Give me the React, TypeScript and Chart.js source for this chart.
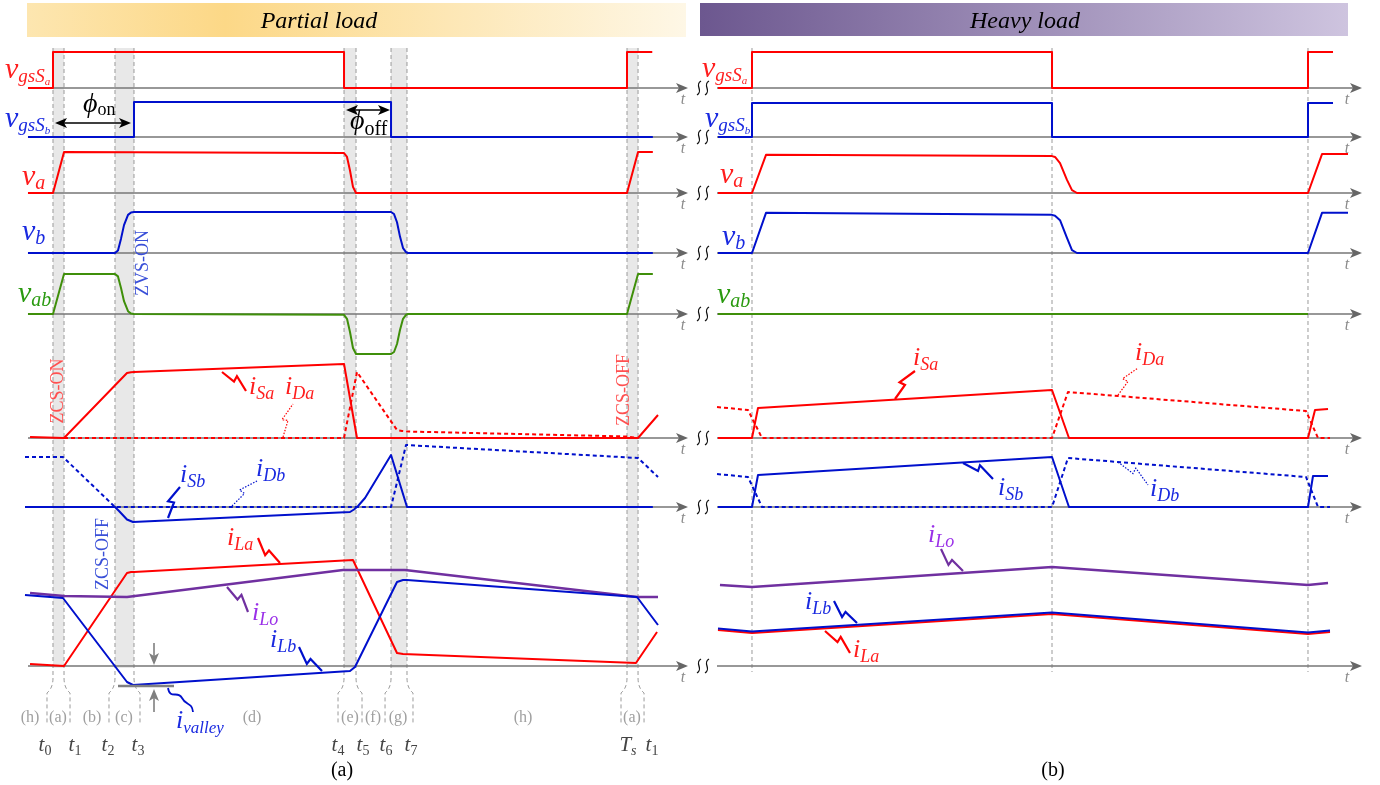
import React, { useEffect, useRef } from "react";
import { Chart, registerables } from "chart.js";
Chart.register(...registerables);

const W = 1380;
const H = 785;
const FONT = '"Liberation Serif", "DejaVu Serif", serif';

const RED = "#ff0000";
const BLUE = "#0010cc";
const GREEN = "#3f8f0a";
const PURPLE = "#7030a0";
const RED_T = "#ff1e1e";
const BLUE_T = "#1a2ae0";
const GREEN_T = "#2a9a10";
const PURPLE_T = "#9a30e8";

// Row layout (baseline pixel, pixels per unit) — layout only
const ROW_BASE = [88, 137, 193, 253, 314, 438, 507, 666];
const ROW_GAIN = [36, 35, 41, 41, 40, 10, 10, 10];

// ---------- Left panel: partial load (time in % of Ts, t0 = 0, Ts = 100)
const L_EVENTS = [0, 1.92, 10.8, 14.11, 50.7, 52.79, 58.89, 61.67, 100, 101.92];
const L_TLABELS = ["t0", "t1", "t2", "t3", "t4", "t5", "t6", "t7", "Ts", "t1"];
const L_PHASES = ["(h)", "(a)", "(b)", "(c)", "(d)", "(e)", "(f)", "(g)", "(h)", "(a)"];

const L_vgsA_t = [-4.36, 0, 0, 50.7, 50.7, 100, 100, 104.4];
const L_vgsA_v = [0, 0, 1, 1, 0, 0, 1, 1];
const L_vgsB_t = [-4.36, 14.11, 14.11, 58.89, 58.89, 104.5];
const L_vgsB_v = [0, 0, 1, 1, 0, 0];
const L_va_t = [-4.36, 0, 1.92, 50.7, 51.22, 51.74, 52.26, 52.79, 100, 101.92, 104.5];
const L_va_v = [0, 0, 1, 0.976, 0.88, 0.55, 0.15, 0, 0, 1, 1];
const L_vb_t = [-4.36, 10.8, 11.32, 11.85, 12.37, 13.07, 13.59, 14.11, 58.89, 59.41, 59.93, 60.45, 60.98, 61.5, 61.85, 104.5];
const L_vb_v = [0, 0, 0.06, 0.35, 0.68, 0.93, 0.99, 1, 1, 0.95, 0.75, 0.4, 0.12, 0.02, 0, 0];
const L_vab_t = [-4.36, 0, 1.92, 10.8, 11.32, 11.85, 12.37, 13.07, 13.59, 14.11, 50.7, 51.22, 51.74, 52.26, 52.79, 58.89, 59.41, 59.93, 60.45, 60.98, 61.5, 61.85, 100, 101.92, 104.5];
const L_vab_v = [0, 0, 1, 1, 0.94, 0.65, 0.32, 0.07, 0.01, 0, -0.02, -0.12, -0.45, -0.85, -1, -1, -0.95, -0.75, -0.4, -0.12, -0.02, 0, 0, 1, 1];

const L_iSa_t = [-4.0, 1.92, 12.89, 13.59, 14.11, 50.7, 52.96, 101.92, 105.4];
const L_iSa_v = [0.1, 0, 6.5, 6.58, 6.6, 7.4, 0, 0, 2.3];
const L_iDa_t = [1.92, 50.7, 52.96, 59.93, 60.8, 61.67, 100, 101.92];
const L_iDa_v = [0, 0, 6.6, 0.8, 0.7, 0.65, 0.15, 0];
const L_iSb_t = [-4.88, 10.8, 11.5, 12.89, 13.94, 51.74, 52.44, 53.14, 54.36, 58.89, 61.67, 104.5];
const L_iSb_v = [0, 0, -0.4, -1.25, -1.5, -0.5, -0.25, 0.1, 0.9, 5.2, 0, 0];
const L_iDb_t = [-4.88, 1.74, 10.8, 58.89, 61.5, 101.92, 105.4];
const L_iDb_v = [5.0, 5.0, 0, 0, 6.2, 4.9, 3.0];
const L_iLa_t = [-4.0, 1.92, 12.89, 13.59, 14.11, 52.26, 59.93, 60.98, 101.56, 105.23];
const L_iLa_v = [0.2, 0, 9.3, 9.4, 9.4, 10.6, 1.3, 1.2, 0.3, 3.4];
const L_iLo_t = [-4.0, 1.92, 12.89, 50.52, 61.32, 101.74, 105.4];
const L_iLo_v = [7.3, 7.0, 6.9, 9.6, 9.6, 6.9, 6.9];
const L_iLb_t = [-4.88, 1.74, 12.89, 13.94, 51.74, 52.61, 59.93, 60.98, 61.67, 101.74, 105.4];
const L_iLb_v = [7.1, 6.8, -1.6, -1.9, -0.5, -0.1, 8.4, 8.6, 8.6, 6.9, 4.1];

// ---------- Right panel: heavy load (time in % of Ts)
const R_EVENTS = [0, 53.96, 100];

const R_vgsA_t = [-6.12, 0, 0, 53.96, 53.96, 100, 100, 104.5];
const R_vgsA_v = [0, 0, 1, 1, 0, 0, 1, 1];
const R_vgsB_t = [-6.12, 0, 0, 53.96, 53.96, 100, 100, 104.5];
const R_vgsB_v = [0, 0, 0.97, 0.97, 0, 0, 0.97, 0.97];
const R_va_t = [-6.12, 0, 2.52, 53.96, 54.5, 55.4, 56.65, 57.55, 58.45, 100, 102.52, 107.2];
const R_va_v = [0, 0, 0.93, 0.9, 0.88, 0.73, 0.32, 0.07, 0, 0, 0.95, 0.95];
const R_vb_t = [-6.12, 0, 2.52, 53.96, 54.5, 55.4, 56.65, 57.55, 58.45, 100, 102.52, 107.2];
const R_vb_v = [0, 0, 0.98, 0.93, 0.91, 0.8, 0.37, 0.07, 0, 0, 0.98, 0.98];
const R_vab_t = [-6.12, 100];
const R_vab_v = [0, 0];
const R_iSa_t = [-6.12, 0, 1.08, 53.96, 57.01, 100, 101.26, 103.6];
const R_iSa_v = [0, 0, 3.0, 4.8, 0, 0, 2.8, 2.9];
const R_iDa_t = [-6.29, -0.72, 1.8, 53.96, 56.83, 99.64, 101.8, 103.96];
const R_iDa_v = [3.1, 2.8, 0, 0, 4.6, 2.7, 0, 0];
const R_iSb_t = [-6.12, 0, 1.08, 53.96, 57.01, 100, 100.9, 103.6];
const R_iSb_v = [0, 0, 3.2, 5.0, 0, 0, 3.1, 3.1];
const R_iDb_t = [-6.29, -0.72, 1.8, 53.96, 56.83, 99.64, 101.8, 103.96];
const R_iDb_v = [3.3, 3.0, 0, 0, 4.9, 3.0, 0, 0];
const R_iLo_t = [-5.76, 0, 53.96, 100, 103.6];
const R_iLo_v = [8.1, 7.9, 9.9, 8.1, 8.3];
const R_iLb_t = [-6.12, 0, 53.96, 100, 103.96];
const R_iLb_v = [3.75, 3.45, 5.35, 3.35, 3.55];
const R_iLa_t = [-6.12, 0, 53.96, 100, 103.96];
const R_iLa_v = [3.6, 3.3, 5.2, 3.2, 3.4];

type Spec = { t: number[]; v: number[]; p: "L" | "R"; row: number; c: string; dash?: boolean; w?: number };

// bottom-first drawing order
const SERIES: Spec[] = [
  { t: L_vgsA_t, v: L_vgsA_v, p: "L", row: 0, c: RED },
  { t: L_vgsB_t, v: L_vgsB_v, p: "L", row: 1, c: BLUE },
  { t: L_va_t, v: L_va_v, p: "L", row: 2, c: RED },
  { t: L_vb_t, v: L_vb_v, p: "L", row: 3, c: BLUE },
  { t: L_vab_t, v: L_vab_v, p: "L", row: 4, c: GREEN },
  { t: L_iDa_t, v: L_iDa_v, p: "L", row: 5, c: RED, dash: true },
  { t: L_iSa_t, v: L_iSa_v, p: "L", row: 5, c: RED },
  { t: L_iDb_t, v: L_iDb_v, p: "L", row: 6, c: BLUE, dash: true },
  { t: L_iSb_t, v: L_iSb_v, p: "L", row: 6, c: BLUE },
  { t: L_iLa_t, v: L_iLa_v, p: "L", row: 7, c: RED },
  { t: L_iLo_t, v: L_iLo_v, p: "L", row: 7, c: PURPLE, w: 2.6 },
  { t: L_iLb_t, v: L_iLb_v, p: "L", row: 7, c: BLUE },
  { t: R_vgsA_t, v: R_vgsA_v, p: "R", row: 0, c: RED },
  { t: R_vgsB_t, v: R_vgsB_v, p: "R", row: 1, c: BLUE },
  { t: R_va_t, v: R_va_v, p: "R", row: 2, c: RED },
  { t: R_vb_t, v: R_vb_v, p: "R", row: 3, c: BLUE },
  { t: R_vab_t, v: R_vab_v, p: "R", row: 4, c: GREEN },
  { t: R_iDa_t, v: R_iDa_v, p: "R", row: 5, c: RED, dash: true },
  { t: R_iSa_t, v: R_iSa_v, p: "R", row: 5, c: RED },
  { t: R_iDb_t, v: R_iDb_v, p: "R", row: 6, c: BLUE, dash: true },
  { t: R_iSb_t, v: R_iSb_v, p: "R", row: 6, c: BLUE },
  { t: R_iLo_t, v: R_iLo_v, p: "R", row: 7, c: PURPLE, w: 2.6 },
  { t: R_iLa_t, v: R_iLa_v, p: "R", row: 7, c: RED },
  { t: R_iLb_t, v: R_iLb_v, p: "R", row: 7, c: BLUE },
];

type Part = [string, number, number, boolean];

function rich(ctx: CanvasRenderingContext2D, x: number, y: number, parts: Part[], color: string, center = false) {
  ctx.fillStyle = color;
  ctx.textAlign = "left";
  ctx.textBaseline = "alphabetic";
  let total = 0;
  for (const [s, size, , it] of parts) {
    ctx.font = `${it ? "italic " : ""}${size}px ${FONT}`;
    total += ctx.measureText(s).width;
  }
  let cx = center ? x - total / 2 : x;
  for (const [s, size, dy, it] of parts) {
    ctx.font = `${it ? "italic " : ""}${size}px ${FONT}`;
    ctx.fillText(s, cx, y + dy);
    cx += ctx.measureText(s).width;
  }
}

function leader(ctx: CanvasRenderingContext2D, x1: number, y1: number, x2: number, y2: number, color: string, dotted = false) {
  const dx = x2 - x1, dy = y2 - y1;
  const L = Math.hypot(dx, dy);
  const ux = dx / L, uy = dy / L;
  const px = uy, py = -ux;
  const bx = x1 + dx * 0.5, by = y1 + dy * 0.5;
  const cx = bx + px * 6 - ux * 1, cy = by + py * 6 - uy * 1;
  ctx.save();
  ctx.strokeStyle = color;
  ctx.lineWidth = dotted ? 1.2 : 2.2;
  ctx.setLineDash(dotted ? [1.5, 1.5] : []);
  ctx.lineJoin = "miter";
  ctx.beginPath();
  ctx.moveTo(x1, y1);
  ctx.lineTo(bx, by);
  ctx.lineTo(cx, cy);
  ctx.lineTo(x2, y2);
  ctx.stroke();
  ctx.restore();
}

function iLabel(ctx: CanvasRenderingContext2D, x: number, y: number, sub: string, color: string) {
  rich(ctx, x, y, [["i", 26, 0, true], [sub, 18, 5, true]], color);
}

function vLabel(ctx: CanvasRenderingContext2D, x: number, y: number, sub: string, color: string) {
  rich(ctx, x, y, [["v", 30, 0, true], [sub, 20, 4, true]], color);
}

function vgsLabel(ctx: CanvasRenderingContext2D, x: number, y: number, sub: string, color: string) {
  rich(ctx, x, y, [["v", 30, 0, true], ["gsS", 19, 4, true], [sub, 11, 7, true]], color);
}

function arrowHead(ctx: CanvasRenderingContext2D, x: number, y: number, dir: number, color: string) {
  // dir: angle in radians of arrow direction
  ctx.save();
  ctx.translate(x, y);
  ctx.rotate(dir);
  ctx.fillStyle = color;
  ctx.beginPath();
  ctx.moveTo(0, 0);
  ctx.lineTo(-12, -5);
  ctx.lineTo(-9, 0);
  ctx.lineTo(-12, 5);
  ctx.closePath();
  ctx.fill();
  ctx.restore();
}

function vtext(ctx: CanvasRenderingContext2D, s: string, x: number, y: number, color: string) {
  ctx.save();
  ctx.translate(x, y);
  ctx.rotate(-Math.PI / 2);
  ctx.fillStyle = color;
  ctx.font = `18px ${FONT}`;
  ctx.textAlign = "center";
  ctx.textBaseline = "middle";
  ctx.fillText(s, 0, 0);
  ctx.restore();
}

const backgroundPlugin = {
  id: "bg",
  beforeDatasetsDraw(chart: any) {
    const ctx: CanvasRenderingContext2D = chart.ctx;
    const xL = chart.scales.xL;
    const xR = chart.scales.xR;
    ctx.save();
    // banners
    let g = ctx.createLinearGradient(27, 0, 686, 0);
    g.addColorStop(0, "#fde6b0");
    g.addColorStop(0.3, "#fcd887");
    g.addColorStop(1, "#fef7e6");
    ctx.fillStyle = g;
    ctx.fillRect(27, 3, 659, 34);
    g = ctx.createLinearGradient(700, 0, 1348, 0);
    g.addColorStop(0, "#6c578f");
    g.addColorStop(1, "#cec4df");
    ctx.fillStyle = g;
    ctx.fillRect(700, 3, 648, 33);
    ctx.fillStyle = "#000";
    ctx.font = `italic 24px ${FONT}`;
    ctx.textAlign = "center";
    ctx.textBaseline = "alphabetic";
    ctx.fillText("Partial load", 319, 28);
    ctx.fillText("Heavy load", 1025, 28);

    // bands
    ctx.fillStyle = "#e8e8e8";
    for (let i = 0; i < L_EVENTS.length; i += 2) {
      const a = xL.getPixelForValue(L_EVENTS[i]);
      const b = xL.getPixelForValue(L_EVENTS[i + 1]);
      ctx.fillRect(a, 48, b - a, 620);
    }
    // dashed event lines
    ctx.strokeStyle = "#9a9a9a";
    ctx.lineWidth = 1;
    ctx.setLineDash([4, 3]);
    L_EVENTS.forEach((t, i) => {
      const x = xL.getPixelForValue(t);
      const s = i % 2 === 0 ? -6 : 6;
      ctx.beginPath();
      ctx.moveTo(x, 48);
      ctx.lineTo(x, 678);
      ctx.quadraticCurveTo(x, 688, x + s, 693);
      ctx.lineTo(x + s, 724);
      ctx.stroke();
    });
    R_EVENTS.forEach((t) => {
      const x = xR.getPixelForValue(t);
      ctx.beginPath();
      ctx.moveTo(x, 48);
      ctx.lineTo(x, 672);
      ctx.stroke();
    });
    ctx.setLineDash([]);

    // axes
    ROW_BASE.forEach((y) => {
      ctx.strokeStyle = "#777";
      ctx.lineWidth = 1.3;
      ctx.beginPath();
      ctx.moveTo(28, y);
      ctx.lineTo(680, y);
      ctx.moveTo(717, y);
      ctx.lineTo(1354, y);
      ctx.stroke();
      arrowHead(ctx, 688, y, 0, "#666");
      arrowHead(ctx, 1362, y, 0, "#666");
      ctx.fillStyle = "#8a8a8a";
      ctx.font = `italic 16px ${FONT}`;
      ctx.textAlign = "center";
      ctx.fillText("t", 683, y + 16);
      ctx.fillText("t", 1347, y + 16);
      // break squiggles
      ctx.strokeStyle = "#111";
      ctx.lineWidth = 1.3;
      for (const sx of [699, 707]) {
        ctx.beginPath();
        ctx.moveTo(sx + 2, y - 7);
        ctx.bezierCurveTo(sx - 5, y - 3, sx + 5, y + 3, sx - 2, y + 7);
        ctx.stroke();
      }
    });
    ctx.restore();
  },
  afterDatasetsDraw(chart: any) {
    const ctx: CanvasRenderingContext2D = chart.ctx;
    ctx.save();
    // left signal names
    vgsLabel(ctx, 5, 78, "a", RED_T);
    vgsLabel(ctx, 5, 127, "b", BLUE_T);
    vLabel(ctx, 22, 185, "a", RED_T);
    vLabel(ctx, 22, 240, "b", BLUE_T);
    vLabel(ctx, 18, 302, "ab", GREEN_T);
    // right signal names
    vgsLabel(ctx, 702, 77, "a", RED_T);
    vgsLabel(ctx, 705, 127, "b", BLUE_T);
    vLabel(ctx, 720, 183, "a", RED_T);
    vLabel(ctx, 722, 245, "b", BLUE_T);
    vLabel(ctx, 717, 303, "ab", GREEN_T);

    // phi arrows
    ctx.strokeStyle = "#000";
    ctx.lineWidth = 1.6;
    ctx.beginPath();
    ctx.moveTo(60, 123);
    ctx.lineTo(125, 123);
    ctx.moveTo(351, 110);
    ctx.lineTo(385, 110);
    ctx.stroke();
    arrowHead(ctx, 55, 123, Math.PI, "#000");
    arrowHead(ctx, 131, 123, 0, "#000");
    arrowHead(ctx, 346, 110, Math.PI, "#000");
    arrowHead(ctx, 390, 110, 0, "#000");
    rich(ctx, 83, 112, [["ϕ", 28, 0, true], ["on", 18, 3, false]], "#000");
    rich(ctx, 350, 129, [["ϕ", 28, 0, true], ["off", 20, 6, false]], "#000");

    // soft-switching notes
    vtext(ctx, "ZVS-ON", 143, 263, "#3a50d8");
    vtext(ctx, "ZCS-ON", 58, 391, "#ff5050");
    vtext(ctx, "ZCS-OFF", 103, 554, "#3a50d8");
    vtext(ctx, "ZCS-OFF", 624, 390, "#ff5050");

    // left current labels and leaders
    leader(ctx, 222, 372, 246, 391, RED);
    iLabel(ctx, 249, 394, "Sa", RED_T);
    leader(ctx, 283, 437, 293, 404, RED, true);
    iLabel(ctx, 285, 394, "Da", RED_T);
    leader(ctx, 168, 518, 180, 487, BLUE);
    iLabel(ctx, 180, 482, "Sb", BLUE_T);
    leader(ctx, 232, 506, 257, 481, BLUE, true);
    iLabel(ctx, 256, 476, "Db", BLUE_T);
    leader(ctx, 280, 563, 258, 538, RED);
    iLabel(ctx, 227, 545, "La", RED_T);
    leader(ctx, 227, 587, 248, 612, PURPLE);
    iLabel(ctx, 252, 620, "Lo", PURPLE_T);
    leader(ctx, 322, 671, 299, 647, BLUE);
    iLabel(ctx, 270, 647, "Lb", BLUE_T);

    // right current labels and leaders
    leader(ctx, 895, 399, 915, 371, RED);
    iLabel(ctx, 913, 365, "Sa", RED_T);
    leader(ctx, 1118, 395, 1138, 368, RED, true);
    iLabel(ctx, 1135, 360, "Da", RED_T);
    leader(ctx, 963, 463, 993, 479, BLUE);
    iLabel(ctx, 998, 495, "Sb", BLUE_T);
    leader(ctx, 1118, 462, 1148, 485, BLUE, true);
    iLabel(ctx, 1150, 496, "Db", BLUE_T);
    leader(ctx, 963, 571, 941, 549, PURPLE);
    iLabel(ctx, 928, 542, "Lo", PURPLE_T);
    leader(ctx, 857, 623, 834, 601, BLUE);
    iLabel(ctx, 805, 609, "Lb", BLUE_T);
    leader(ctx, 825, 631, 850, 653, RED);
    iLabel(ctx, 853, 657, "La", RED_T);

    // valley marker
    ctx.strokeStyle = "#808080";
    ctx.lineWidth = 2.4;
    ctx.beginPath();
    ctx.moveTo(118, 686);
    ctx.lineTo(174, 686);
    ctx.stroke();
    ctx.lineWidth = 1.6;
    ctx.beginPath();
    ctx.moveTo(154, 643);
    ctx.lineTo(154, 656);
    ctx.moveTo(154, 712);
    ctx.lineTo(154, 698);
    ctx.stroke();
    arrowHead(ctx, 154, 665, Math.PI / 2, "#808080");
    arrowHead(ctx, 154, 689, -Math.PI / 2, "#808080");
    ctx.strokeStyle = BLUE;
    ctx.lineWidth = 1.8;
    ctx.beginPath();
    ctx.moveTo(168, 688);
    ctx.bezierCurveTo(170, 700, 178, 690, 182, 698);
    ctx.bezierCurveTo(186, 706, 192, 702, 193, 712);
    ctx.stroke();
    rich(ctx, 176, 728, [["i", 26, 0, true], ["valley", 17, 5, true]], BLUE_T);

    // phase and instant labels
    const PHASE_X = [30, 58, 92, 124, 252, 350, 373, 398, 523, 632];
    ctx.fillStyle = "#a0a0a0";
    ctx.font = `16px ${FONT}`;
    ctx.textAlign = "center";
    L_PHASES.forEach((s, i) => ctx.fillText(s, PHASE_X[i], 722));
    const TL_X = [45, 75, 108, 138, 338, 363, 386, 411, 628, 652];
    L_TLABELS.forEach((s, i) => {
      const main = s[0] === "T" ? "T" : "t";
      const sub = s.slice(1);
      rich(ctx, TL_X[i], 751, [[main, 21, 0, true], [sub, 14, 4, sub === "s"]], "#444", true);
    });

    ctx.fillStyle = "#000";
    ctx.font = `20px ${FONT}`;
    ctx.textAlign = "center";
    ctx.fillText("(a)", 342, 776);
    ctx.fillText("(b)", 1053, 776);
    ctx.restore();
  },
};

export default function App() {
  const ref = useRef<HTMLCanvasElement>(null);
  useEffect(() => {
    const scales: any = {
      xL: { type: "linear", axis: "x", position: "bottom", min: -9.233, max: 231.18, display: false, bounds: "data" },
      xR: { type: "linear", axis: "x", position: "bottom", min: -135.25, max: 112.95, display: false, bounds: "data" },
    };
    ROW_BASE.forEach((b, i) => {
      const g = ROW_GAIN[i];
      scales["r" + i] = { type: "linear", axis: "y", position: "left", min: (b - H) / g, max: b / g, display: false, bounds: "data" };
    });
    const datasets = SERIES.map((s) => ({
      data: s.t.map((x, i) => ({ x, y: s.v[i] })),
      xAxisID: s.p === "L" ? "xL" : "xR",
      yAxisID: "r" + s.row,
      borderColor: s.c,
      borderWidth: s.w ?? 2,
      borderDash: s.dash ? [4, 3] : [],
      pointRadius: 0,
      tension: 0,
      fill: false,
      borderJoinStyle: "round" as const,
    })).reverse();
    const chart = new Chart(ref.current as HTMLCanvasElement, {
      type: "line",
      data: { datasets },
      options: {
        animation: false,
        responsive: false,
        events: [],
        layout: { padding: 0 },
        scales,
        plugins: { legend: { display: false }, tooltip: { enabled: false }, title: { display: false } },
      },
      plugins: [backgroundPlugin],
    } as any);
    return () => chart.destroy();
  }, []);
  return (
    <div style={{ position: "absolute", left: 0, top: 0, width: W, height: H, background: "#fff" }}>
      <canvas ref={ref} width={W} height={H} style={{ width: W, height: H, display: "block" }} />
    </div>
  );
}
